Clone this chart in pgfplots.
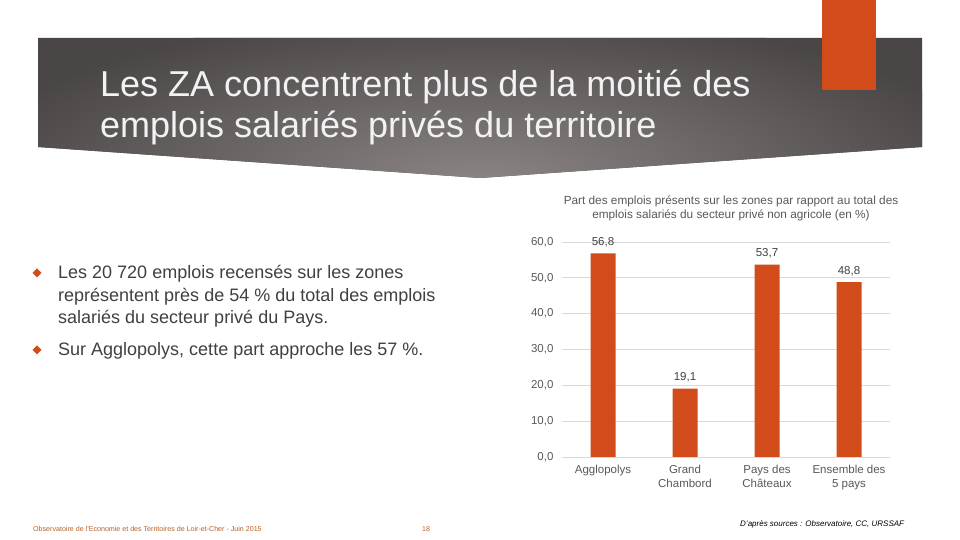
\documentclass[border=0pt]{standalone}
\usepackage{fontspec}
\setmainfont{Liberation Sans}
\usepackage{pgfplots}
\pgfplotsset{compat=1.18}

\definecolor{barorange}{HTML}{D24B1A}
\definecolor{bandedge}{HTML}{4B4646}
\definecolor{bandmid}{HTML}{8A8484}
\definecolor{bodytext}{HTML}{404040}
\definecolor{charttext}{HTML}{595959}
\definecolor{gridgray}{HTML}{D9D9D9}
\definecolor{footbrown}{HTML}{B5602B}

\begin{document}
\begin{tikzpicture}[x=1pt,y=1pt]
% page
\path[fill=white] (0,0) rectangle (960,540);

% title band
\begin{scope}
  \clip (38,502) -- (922,502) -- (922,393) -- (480,362) -- (38,393) -- cycle;
  \fill[bandedge] (0,300) rectangle (960,540);
  \shade[inner color=bandmid, outer color=bandedge] (480,360) ellipse (520 and 170);
\end{scope}
\fill[barorange] (822,450) rectangle (876,540);

\node[anchor=base west, inner sep=0, text=white!95!black, font=\fontsize{36}{41}\selectfont]
  at (100,443.3) {Les ZA concentrent plus de la moitié des};
\node[anchor=base west, inner sep=0, text=white!95!black, font=\fontsize{36}{41}\selectfont]
  at (100,402) {emplois salariés privés du territoire};

% bullets
\fill[barorange] (37,271.5) -- (41.5,267) -- (37,262.5) -- (32.5,267) -- cycle;
\fill[barorange] (37,194.5) -- (41.5,190) -- (37,185.5) -- (32.5,190) -- cycle;
\begin{scope}[every node/.style={anchor=base west, inner sep=0, text=bodytext, font=\fontsize{18}{22.5}\selectfont}]
  \node at (58,261) {Les 20 720 emplois recensés sur les zones};
  \node at (58,238.5) {représentent près de 54 \% du total des emplois};
  \node at (58,216) {salariés du secteur privé du Pays.};
  \node at (58,184) {Sur Agglopolys, cette part approche les 57 \%.};
\end{scope}

% chart title
\node[anchor=base, inner sep=0, text=charttext, font=\fontsize{11.8}{13.5}\selectfont]
  at (731,335) {Part des emplois présents sur les zones par rapport au total des};
\node[anchor=base, inner sep=0, text=charttext, font=\fontsize{11.8}{13.5}\selectfont]
  at (731,321.5) {emplois salariés du secteur privé non agricole (en \%)};

\begin{axis}[
  at={(562pt,83pt)}, anchor=south west,
  scale only axis, width=328pt, height=215pt,
  ybar, bar width=25pt,
  xmin=-0.5, xmax=3.5, ymin=0, ymax=60,
  ytick={0,10,...,60},
  xtick=data,
  xticklabels={Agglopolys,{Grand\\Chambord},{Pays des\\Châteaux},{Ensemble des\\5 pays}},
  xticklabel style={align=center, text=charttext, font=\fontsize{11.5}{14}\selectfont, yshift=-5pt},
  yticklabel style={text=charttext, font=\fontsize{11.5}{14}\selectfont, xshift=-5pt},
  major tick length=0pt,
  ymajorgrids, grid style={gridgray, line width=0.8pt},
  axis line style={draw=none},
  /pgf/number format/.cd, fixed, fixed zerofill, precision=1, use comma, assume math mode=true,
  /pgfplots/.cd,
  nodes near coords,
  every node near coord/.append style={text=bodytext, font=\fontsize{11.5}{14}\selectfont, yshift=3pt},
]
\addplot[fill=barorange, draw=none] coordinates {(0,56.8) (1,19.1) (2,53.7) (3,48.8)};
\end{axis}

% footer
\node[anchor=base west, inner sep=0, text=footbrown, font=\fontsize{7.1}{8}\selectfont]
  at (33,8) {Observatoire de l'Economie et des Territoires de Loir-et-Cher - Juin 2015};
\node[anchor=base west, inner sep=0, text=footbrown, font=\fontsize{7}{8}\selectfont]
  at (422,8) {18};
\node[anchor=base west, inner sep=0, text=black, font=\fontsize{8}{9}\selectfont\itshape]
  at (740,13) {D'après sources : Observatoire, CC, URSSAF};
\end{tikzpicture}
\end{document}
